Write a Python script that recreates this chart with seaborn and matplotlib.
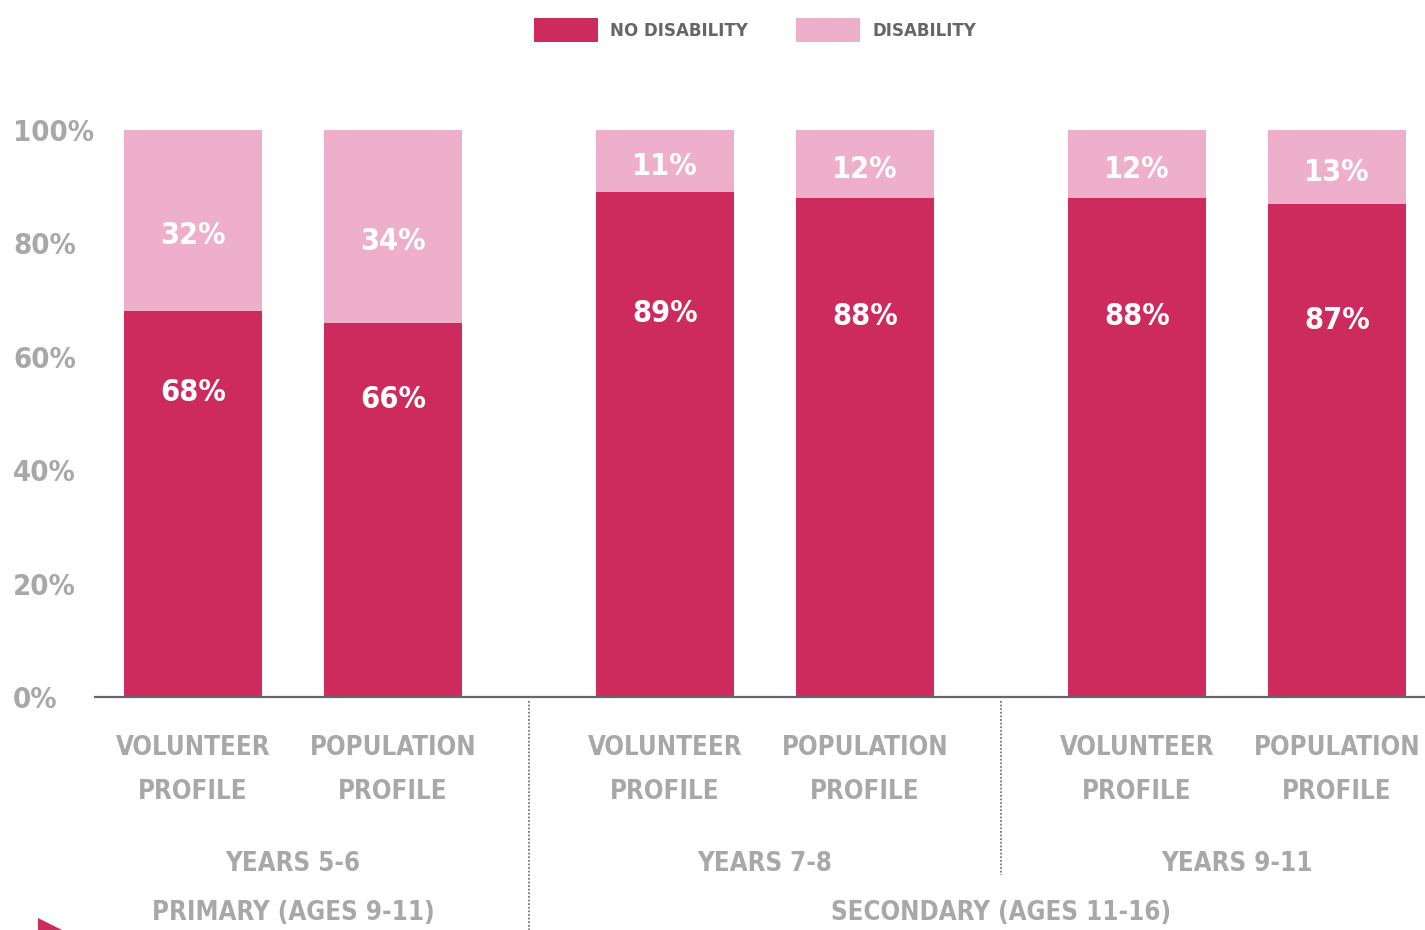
import matplotlib
matplotlib.use("Agg")
import matplotlib.pyplot as plt
from matplotlib import font_manager
from matplotlib.patches import Patch, Polygon
import matplotlib.transforms as mtransforms
import seaborn as sns
import pandas as pd

# ---------------- data ----------------
bar_labels = ["VOLUNTEER\nPROFILE", "POPULATION\nPROFILE",
              "VOLUNTEER\nPROFILE", "POPULATION\nPROFILE",
              "VOLUNTEER\nPROFILE", "POPULATION\nPROFILE"]
no_disability = [68, 66, 89, 88, 88, 87]
disability = [32, 34, 11, 12, 12, 13]
year_labels = ["YEARS 5-6", "YEARS 7-8", "YEARS 9-11"]
phase_labels = ["PRIMARY (AGES 9-11)", "SECONDARY (AGES 11-16)"]
series_names = ["NO DISABILITY", "DISABILITY"]
y_ticks = [0, 20, 40, 60, 80, 100]
y_tick_labels = ["0%", "20%", "40%", "60%", "80%", "100%"]

# ---------------- style ----------------
CRIMSON = "#CD2B5E"
PINK = "#EEAFCA"
GREY = "#A8A8A8"
DARK = "#666666"

sns.set_theme(style="white")
names = {f.name for f in font_manager.fontManager.ttflist}
cond = [f for f in font_manager.fontManager.ttflist
        if f.name == "DejaVu Sans" and f.stretch == "condensed"]
if "Liberation Sans Narrow" in names:
    FAMILY, STRETCH = "Liberation Sans Narrow", "normal"
elif cond:
    FAMILY, STRETCH = "DejaVu Sans", "condensed"
else:
    FAMILY, STRETCH = "Roboto", "normal"
plt.rcParams["font.family"] = [FAMILY, "DejaVu Sans"]
plt.rcParams["font.stretch"] = STRETCH
plt.rcParams["font.weight"] = "bold"

# positions: pairs of bars, with wider gaps between year groups
group_gap = 2.36
positions = [0, 1, group_gap, group_gap + 1, 2 * group_gap, 2 * group_gap + 1]
totals = [a + b for a, b in zip(no_disability, disability)]
df = pd.DataFrame({"pos": positions, "total": totals, "no": no_disability,
                   "dis": disability})

fig = plt.figure(figsize=(14.25, 9.3), dpi=100)
W, H = 1425, 930
ax = fig.add_axes([95 / W, 233 / H, 1330 / W, 567 / H])

sns.barplot(data=df, x="pos", y="total", native_scale=True, orient="x",
            width=0.69, color=PINK, saturation=1, errorbar=None,
            linewidth=0, ax=ax)
sns.barplot(data=df, x="pos", y="no", native_scale=True, orient="x",
            width=0.69, color=CRIMSON, saturation=1, errorbar=None,
            linewidth=0, ax=ax)

ax.set_xlim(-0.49, 6.16)
ax.set_ylim(0, 100)
ax.set_xlabel("")
ax.set_ylabel("")

# value labels
for p, n, d in zip(positions, no_disability, disability):
    ax.text(p, 0.665 * n + 8.5, f"{n}%", ha="center", va="center",
            color="white", fontsize=22, fontweight="bold")
    ax.text(p, 100 - 0.58 * d, f"{d}%", ha="center", va="center",
            color="white", fontsize=22, fontweight="bold")

# axes styling
for s in ["top", "right", "left"]:
    ax.spines[s].set_visible(False)
ax.spines["bottom"].set_color(DARK)
ax.spines["bottom"].set_linewidth(1.6)

ax.set_yticks(y_ticks)
ax.set_yticklabels(y_tick_labels)
ax.tick_params(axis="y", length=0, pad=59, labelsize=21, labelcolor=GREY)
for lab in ax.get_yticklabels():
    lab.set_ha("left")
    lab.set_fontweight("bold")

ax.set_xticks(positions)
ax.set_xticklabels(bar_labels, linespacing=1.9)
ax.tick_params(axis="x", length=0, pad=27, labelsize=18.5, labelcolor=GREY)
for lab in ax.get_xticklabels():
    lab.set_fontweight("bold")

trans = mtransforms.blended_transform_factory(ax.transData, ax.transAxes)
# group labels
group_centers = [(positions[2 * i] + positions[2 * i + 1]) / 2 for i in range(3)]
for c, t in zip(group_centers, year_labels):
    ax.text(c, -167 / 567, t, transform=trans, ha="center", va="center",
            fontsize=18.5, color=GREY, fontweight="bold")
ax.text(group_centers[0], -216 / 567, phase_labels[0], transform=trans,
        ha="center", va="center", fontsize=18.5, color=GREY, fontweight="bold")
ax.text((group_centers[1] + group_centers[2]) / 2, -216 / 567, phase_labels[1],
        transform=trans, ha="center", va="center", fontsize=18.5, color=GREY,
        fontweight="bold")

# dotted separators
sep1 = (positions[1] + positions[2]) / 2
sep2 = (positions[3] + positions[4]) / 2
ax.plot([sep1, sep1], [-4 / 567, -240 / 567], transform=trans, clip_on=False,
        color="#777777", linestyle=(0, (1, 1)), linewidth=1.3)
ax.plot([sep2, sep2], [-4 / 567, -178 / 567], transform=trans, clip_on=False,
        color="#777777", linestyle=(0, (1, 1)), linewidth=1.3)

# legend
fs = 13.3
px = fs * 100 / 72
handles = [Patch(facecolor=CRIMSON, edgecolor="none"),
           Patch(facecolor=PINK, edgecolor="none")]
leg = fig.legend(handles, series_names, loc="center", ncol=2, frameon=False,
                 bbox_to_anchor=(755 / W, 1 - 30 / H),
                 handlelength=64 / px, handleheight=30 / px,
                 handletextpad=12 / px, columnspacing=48 / px,
                 prop={"size": fs, "weight": "bold"})
for t in leg.get_texts():
    t.set_color(DARK)

# decorative pointer at bottom-left
fig.add_artist(Polygon([[38 / W, 12 / H], [38 / W, -12 / H], [62 / W, 0]],
                       closed=True, transform=fig.transFigure,
                       facecolor=CRIMSON, edgecolor="none"))

fig.savefig("out.png", dpi=100)
